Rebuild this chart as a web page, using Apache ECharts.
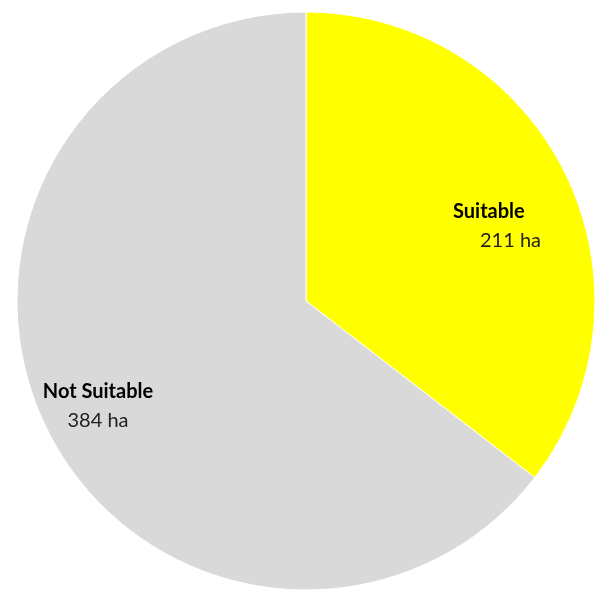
<!DOCTYPE html>
<html>
<head>
<meta charset="utf-8">
<script src="https://cdn.jsdelivr.net/npm/echarts@6/dist/echarts.min.js"></script>
<style>html,body{margin:0;padding:0;background:#fff}#c{width:595px;height:590px}</style>
</head>
<body>
<div id="c"></div>
<script>
const categories = ['Suitable', 'Not Suitable'];
const values = [211, 384];
const unit = 'ha';
const colors = ['#FFFF00', '#D9D9D9'];

const chart = echarts.init(document.getElementById('c'), null, {renderer: 'canvas'});
const labelPos = [
  {x: 453, y: 226, align: 'left'},
  {x: 98, y: 406, align: 'center'}
];
const valuePad = [27, 0];
chart.setOption({
  animation: false,
  series: [{
    type: 'pie',
    center: [306, 301],
    radius: 289,
    startAngle: 90,
    clockwise: true,
    data: categories.map((c, i) => ({
      name: c,
      value: values[i],
      itemStyle: {color: colors[i]},
      label: {
        formatter: '{b|' + c + '}\n{v|' + values[i] + ' ' + unit + '}',
        rich: {
          b: {fontFamily: 'Lato', fontWeight: 'bold', fontSize: 20, color: '#000', lineHeight: 29},
          v: {fontFamily: 'Lato', fontSize: 20, color: '#222', lineHeight: 29, padding: [0, 0, 0, valuePad[i]]}
        }
      }
    })),
    itemStyle: {borderColor: '#fff', borderWidth: 1},
    label: {show: true, position: 'inside'},
    labelLine: {show: false},
    labelLayout: function (p) {
      const l = labelPos[p.dataIndex];
      return {x: l.x, y: l.y, align: l.align, verticalAlign: 'middle'};
    }
  }]
});
</script>
</body>
</html>
